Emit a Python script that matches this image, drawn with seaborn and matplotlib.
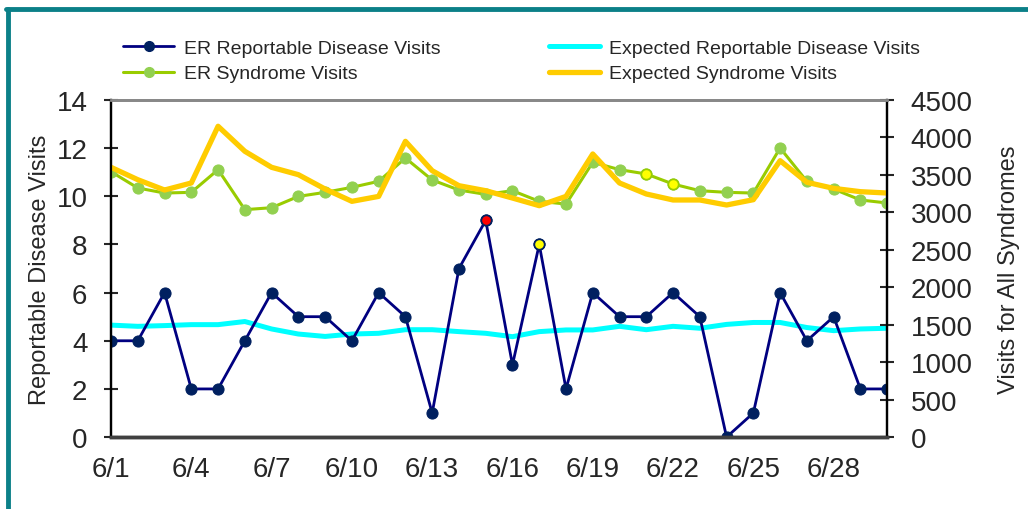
import numpy as np
import pandas as pd
import matplotlib
matplotlib.use('Agg')
import matplotlib.pyplot as plt
from matplotlib.lines import Line2D
import seaborn as sns

sns.set_style("white")
plt.rcParams['font.family'] = ['Liberation Sans', 'DejaVu Sans']

# data (June 1 - June 30)
days = [f"6/{d}" for d in range(1, 31)]
er_reportable = [4, 4, 6, 2, 2, 4, 6, 5, 5, 4, 6, 5, 1, 7, 9,
                 3, 8, 2, 6, 5, 5, 6, 5, 0, 1, 6, 4, 5, 2, 2]
exp_reportable = [4.65, 4.6, 4.63, 4.67, 4.67, 4.8, 4.49, 4.28, 4.18, 4.28,
                  4.31, 4.46, 4.46, 4.38, 4.31, 4.17, 4.38, 4.45, 4.45, 4.6,
                  4.46, 4.6, 4.52, 4.68, 4.76, 4.76, 4.55, 4.42, 4.49, 4.52]
er_syndrome = [3543, 3325, 3258, 3267, 3570, 3036, 3062, 3213, 3267, 3334,
               3414, 3725, 3432, 3298, 3240, 3289, 3147, 3111, 3668, 3570,
               3512, 3378, 3289, 3267, 3258, 3859, 3414, 3311, 3165, 3125]
exp_syndrome = [3601, 3436, 3298, 3392, 4149, 3815, 3601, 3503, 3311, 3147,
                3213, 3948, 3556, 3356, 3289, 3191, 3089, 3213, 3779, 3392,
                3245, 3165, 3165, 3098, 3169, 3690, 3401, 3320, 3276, 3258]

# flagged points
rep_red = [14]
rep_yellow = [16]
syn_yellow = [20, 21]

df = pd.DataFrame({'day': np.arange(len(days)), 'er_rep': er_reportable,
                   'exp_rep': exp_reportable, 'er_syn': er_syndrome,
                   'exp_syn': exp_syndrome})

NAVY = '#000080'
NAVY_M = '#002060'
GREEN = '#99cc00'
GREEN_M = '#92d050'
GOLD = '#ffcc00'
CYAN = '#00ffff'
TEAL = '#0b8088'

fig = plt.figure(figsize=(10.28, 5.10), dpi=100)
ax = fig.add_axes([0.108, 0.141, 0.755, 0.661])
ax2 = ax.twinx()

# left axis: reportable disease
sns.lineplot(data=df, x='day', y='exp_rep', ax=ax, color=CYAN, linewidth=3.6,
             label='Expected Reportable Disease Visits', legend=False)
sns.lineplot(data=df, x='day', y='er_rep', ax=ax, color=NAVY, linewidth=2.0,
             marker='o', markersize=8, markerfacecolor=NAVY_M,
             markeredgecolor=NAVY_M, label='ER Reportable Disease Visits',
             legend=False)
sns.scatterplot(data=df.iloc[rep_red], x='day', y='er_rep', ax=ax, color='#ff0000',
                edgecolor=NAVY_M, linewidth=1.2, s=55, zorder=5, legend=False)
sns.scatterplot(data=df.iloc[rep_yellow], x='day', y='er_rep', ax=ax, color='#ffff00',
                edgecolor=NAVY_M, linewidth=1.2, s=55, zorder=5, legend=False)

# right axis: syndromes
sns.lineplot(data=df, x='day', y='er_syn', ax=ax2, color=GREEN, linewidth=2.2,
             marker='o', markersize=8, markerfacecolor=GREEN_M,
             markeredgecolor=GREEN_M, label='ER Syndrome Visits', legend=False)
sns.lineplot(data=df, x='day', y='exp_syn', ax=ax2, color=GOLD, linewidth=3.8,
             label='Expected Syndrome Visits', legend=False)
sns.scatterplot(data=df.iloc[syn_yellow], x='day', y='er_syn', ax=ax2, color='#ffff00',
                edgecolor=GREEN, linewidth=1.2, s=55, zorder=5, legend=False)

ax.set_xlim(0, len(days) - 1)
ax.set_ylim(0, 14)
ax2.set_ylim(0, 4500)
ax.set_yticks(np.arange(0, 15, 2))
ax2.set_yticks(np.arange(0, 4501, 500))
ax.set_xticks(df['day'])
ax.set_xticklabels([d if i % 3 == 0 else '' for i, d in enumerate(days)],
                   family=['Liberation Sans Narrow', 'Liberation Sans'], fontsize=20)

ax.set_xlabel('')
ax.set_ylabel('Reportable Disease Visits', fontsize=17, labelpad=4)
ax2.set_ylabel('Visits for All Syndromes', fontsize=17, labelpad=18)

ax.tick_params(axis='y', direction='inout', length=10, width=1.5, labelsize=20, pad=12)
ax2.tick_params(axis='y', direction='inout', length=10, width=1.5, labelsize=20, pad=12)
ax.tick_params(axis='x', direction='inout', length=11, width=1.2, pad=8)

for a in (ax, ax2):
    a.spines['left'].set_color('black')
    a.spines['left'].set_linewidth(1.6)
    a.spines['right'].set_color('black')
    a.spines['right'].set_linewidth(1.6)
    a.spines['top'].set_color('#888888')
    a.spines['top'].set_linewidth(2)
    a.spines['bottom'].set_color('#404040')
    a.spines['bottom'].set_linewidth(2.5)
ax.grid(False)
ax2.grid(False)

# legend in two columns above the plot
handles = [
    Line2D([], [], color=NAVY, lw=2.0, marker='o', ms=7, mfc=NAVY_M, mec=NAVY_M),
    Line2D([], [], color=GREEN, lw=2.2, marker='o', ms=7, mfc=GREEN_M, mec=GREEN_M),
    Line2D([], [], color=CYAN, lw=3.6),
    Line2D([], [], color=GOLD, lw=3.8),
]
labels = ['ER Reportable Disease Visits', 'ER Syndrome Visits',
          'Expected Reportable Disease Visits', 'Expected Syndrome Visits']
fig.legend(handles, labels, ncol=2, loc='upper left', bbox_to_anchor=(0.103, 0.955),
           frameon=False, handlelength=2.6, handletextpad=0.5, columnspacing=5.6,
           labelspacing=0.4, prop={'family': ['Liberation Sans Narrow', 'Liberation Sans'],
                                   'size': 14})

# teal frame
fig.add_artist(Line2D([0.0078, 0.0078], [0, 0.98], color=TEAL, lw=3.5,
                      transform=fig.transFigure))
fig.add_artist(Line2D([0.006, 1.0], [0.98, 0.98], color=TEAL, lw=3.5,
                      transform=fig.transFigure))

fig.savefig('out.png', dpi=100, facecolor='white')
